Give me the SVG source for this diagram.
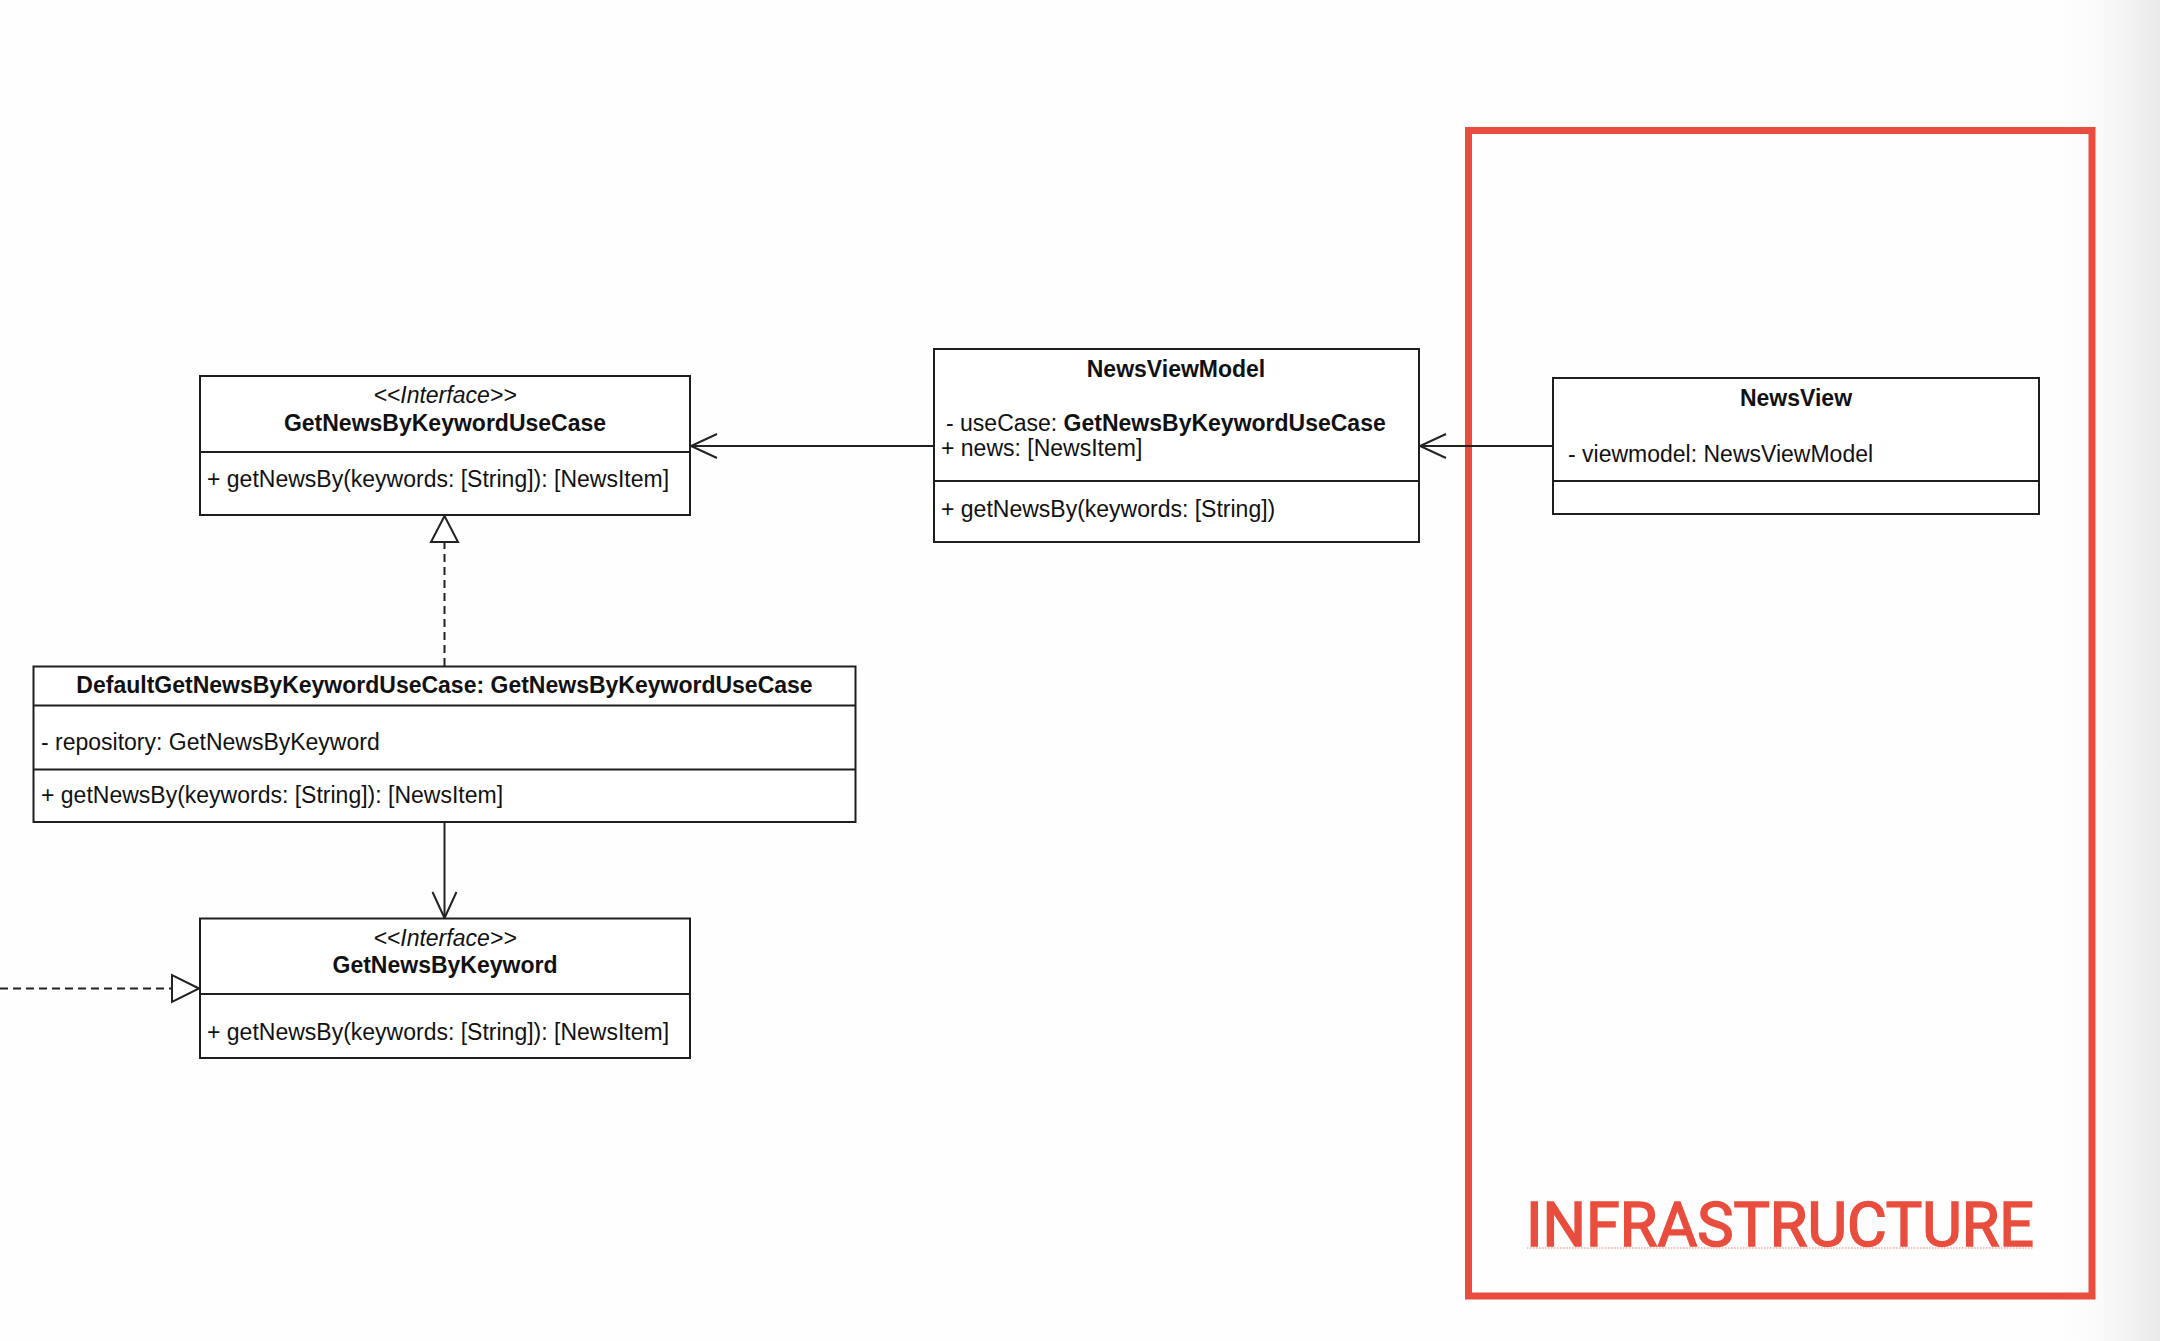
<svg xmlns="http://www.w3.org/2000/svg" width="2160" height="1341" viewBox="0 0 2160 1341">
<defs>
<style>
.box{fill:#ffffff;stroke:#1e1e1e;stroke-width:2}
.div{stroke:#1e1e1e;stroke-width:2}
.t{font-family:"Liberation Sans",Arial,Helvetica,sans-serif;font-size:23px;fill:#111111}
.b{font-weight:bold}
.i{font-style:italic}
.c{text-anchor:middle}
.edge{stroke:#222222;stroke-width:2;fill:none}
.dash{stroke-dasharray:8 5}
.tri{fill:#ffffff;stroke:#222222;stroke-width:2}
</style>
<linearGradient id="shade" x1="0" y1="0" x2="1" y2="0">
<stop offset="0" stop-color="#ffffff" stop-opacity="0"/>
<stop offset="1" stop-color="#e9e9e9"/>
</linearGradient>
</defs>
<rect x="0" y="0" width="2160" height="1341" fill="#fefefe"/>
<rect x="2040" y="0" width="120" height="1341" fill="url(#shade)"/>

<g id="infrastructure">
<rect x="1468.5" y="130.5" width="623.5" height="1165.5" fill="none" stroke="#e84d3d" stroke-width="7"/>
<text x="1780" y="1246" text-anchor="middle" font-family="Roboto,'Liberation Sans',sans-serif" font-size="61" fill="#e84d3d" stroke="#e84d3d" stroke-width="1.6">INFRASTRUCTURE</text>
<line x1="1527" y1="1248" x2="2034" y2="1248" stroke="#f2a8a0" stroke-width="1.5" stroke-dasharray="1.5 1.5"/>
</g>

<g id="connectors">
<line class="edge" x1="934" y1="446" x2="691" y2="446"/>
<polyline class="edge" points="717,434 691,446 717,458"/>
<line class="edge" x1="1553" y1="446" x2="1420" y2="446"/>
<polyline class="edge" points="1446,434 1420,446 1446,458"/>
<line class="edge dash" x1="444.5" y1="666" x2="444.5" y2="542"/>
<polygon class="tri" points="444.5,516 431,542 458,542"/>
<line class="edge" x1="444.5" y1="822" x2="444.5" y2="917"/>
<polyline class="edge" points="432.5,892 444.5,918 456.5,892"/>
<line class="edge dash" x1="0" y1="988.5" x2="172" y2="988.5"/>
<polygon class="tri" points="199,988.5 172,975 172,1002"/>
</g>

<g id="GetNewsByKeywordUseCase">
<rect class="box" x="200" y="376" width="490" height="139"/>
<line class="div" x1="200" y1="452" x2="690" y2="452"/>
<text class="t i c" x="445" y="403">&lt;&lt;Interface&gt;&gt;</text>
<text class="t b c" x="445" y="431">GetNewsByKeywordUseCase</text>
<text class="t" x="207" y="487">+ getNewsBy(keywords: [String]): [NewsItem]</text>
</g>

<g id="NewsViewModel">
<rect class="box" x="934" y="349" width="485" height="193"/>
<line class="div" x1="934" y1="481" x2="1419" y2="481"/>
<text class="t b c" x="1176" y="377">NewsViewModel</text>
<text class="t" x="946" y="431">- useCase: <tspan class="b">GetNewsByKeywordUseCase</tspan></text>
<text class="t" x="941" y="456">+ news: [NewsItem]</text>
<text class="t" x="941" y="517">+ getNewsBy(keywords: [String])</text>
</g>

<g id="NewsView">
<rect class="box" x="1553" y="378" width="486" height="136"/>
<line class="div" x1="1553" y1="481" x2="2039" y2="481"/>
<text class="t b c" x="1796" y="406">NewsView</text>
<text class="t" x="1568" y="462">- viewmodel: NewsViewModel</text>
</g>

<g id="DefaultGetNewsByKeywordUseCase">
<rect class="box" x="33.5" y="666.5" width="822" height="155.5"/>
<line class="div" x1="33.5" y1="705.5" x2="855.5" y2="705.5"/>
<line class="div" x1="33.5" y1="769.5" x2="855.5" y2="769.5"/>
<text class="t b c" x="444.5" y="693">DefaultGetNewsByKeywordUseCase: GetNewsByKeywordUseCase</text>
<text class="t" x="41" y="750">- repository: GetNewsByKeyword</text>
<text class="t" x="41" y="803">+ getNewsBy(keywords: [String]): [NewsItem]</text>
</g>

<g id="GetNewsByKeyword">
<rect class="box" x="200" y="918.5" width="490" height="139.5"/>
<line class="div" x1="200" y1="994" x2="690" y2="994"/>
<text class="t i c" x="445" y="946">&lt;&lt;Interface&gt;&gt;</text>
<text class="t b c" x="445" y="973">GetNewsByKeyword</text>
<text class="t" x="207" y="1040">+ getNewsBy(keywords: [String]): [NewsItem]</text>
</g>
</svg>
